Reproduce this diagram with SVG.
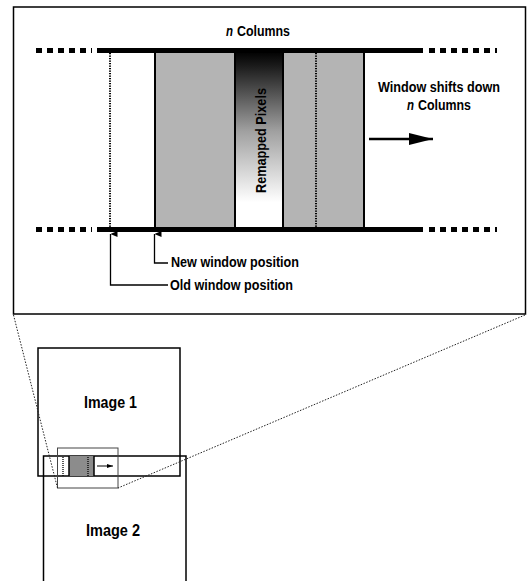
<svg xmlns="http://www.w3.org/2000/svg" width="527" height="581" viewBox="0 0 527 581">
  <style>
    .lbl { font-family: "Liberation Sans", Arial, sans-serif; font-weight: bold; fill: #000; }
    .it { font-style: italic; }
    .frame { fill: none; stroke: #000; stroke-width: 1.5; }
    .bar { stroke: #000; stroke-width: 5; }
    .dashbar { stroke: #000; stroke-width: 5; stroke-dasharray: 6 5; }
    .edge { stroke: #000; stroke-width: 2; }
    .dots { stroke: #000; stroke-width: 2; stroke-dasharray: 1.3 1.2; }
    .lead { fill: none; stroke: #000; stroke-width: 1.3; }
    .proj { fill: none; stroke: #222; stroke-width: 1; stroke-dasharray: 1.5 1.5; }
  </style>
  <defs>
    <linearGradient id="remap" x1="0" y1="0" x2="0" y2="1">
      <stop offset="0" stop-color="#000"/>
      <stop offset="0.08" stop-color="#1a1a1a"/>
      <stop offset="0.45" stop-color="#a0a0a0"/>
      <stop offset="0.85" stop-color="#fff"/>
      <stop offset="1" stop-color="#fff"/>
    </linearGradient>
    <marker id="tip" viewBox="0 0 6 8" refX="3" refY="0" markerWidth="6" markerHeight="8" markerUnits="userSpaceOnUse" orient="auto-start-reverse">
      <path d="M3 0 L6 7 L0 7 Z" fill="#000"/>
    </marker>
    <marker id="bigtip" viewBox="0 0 24 12" refX="24" refY="6" markerWidth="24" markerHeight="12" markerUnits="userSpaceOnUse" orient="auto">
      <path d="M0 0 L24 6 L0 12 Z" fill="#000"/>
    </marker>
    <marker id="smalltip" viewBox="0 0 6 4" refX="6" refY="2" markerWidth="6" markerHeight="4" markerUnits="userSpaceOnUse" orient="auto">
      <path d="M0 0 L6 2 L0 4 Z" fill="#000"/>
    </marker>
  </defs>

  <!-- magnified view -->
  <g id="detail">
    <rect class="frame" x="13.5" y="7" width="512" height="307"/>

    <!-- window columns -->
    <rect x="155" y="51" width="80" height="178" fill="#b4b4b4"/>
    <rect x="235" y="51" width="48" height="178" fill="url(#remap)"/>
    <rect x="283" y="51" width="81" height="178" fill="#b4b4b4"/>
    <line class="edge" x1="155" y1="51" x2="155" y2="229"/>
    <line class="edge" x1="235" y1="51" x2="235" y2="229"/>
    <line class="edge" x1="283" y1="51" x2="283" y2="229"/>
    <line class="edge" x1="364" y1="51" x2="364" y2="229"/>
    <line class="dots" x1="110" y1="53" x2="110" y2="228"/>
    <line class="dots" x1="316" y1="53" x2="316" y2="228"/>

    <!-- image row edges -->
    <line class="bar" x1="97" y1="50.5" x2="423" y2="50.5"/>
    <line class="bar" x1="97" y1="229.5" x2="423" y2="229.5"/>
    <line class="dashbar" x1="36" y1="50.5" x2="92" y2="50.5"/>
    <line class="dashbar" x1="36" y1="229.5" x2="92" y2="229.5"/>
    <line class="dashbar" x1="429" y1="50.5" x2="497" y2="50.5"/>
    <line class="dashbar" x1="429" y1="229.5" x2="497" y2="229.5"/>

    <text class="lbl it" font-size="15" x="226" y="36" textLength="7" lengthAdjust="spacingAndGlyphs">n</text>
    <text class="lbl" font-size="15" x="237" y="36" textLength="53" lengthAdjust="spacingAndGlyphs">Columns</text>
    <text class="lbl" font-size="15.5" transform="translate(266 193) rotate(-90)" textLength="105" lengthAdjust="spacingAndGlyphs">Remapped Pixels</text>
    <text class="lbl" font-size="15" x="378" y="92" textLength="122" lengthAdjust="spacingAndGlyphs">Window shifts down</text>
    <text class="lbl it" font-size="15" x="407" y="110" textLength="7" lengthAdjust="spacingAndGlyphs">n</text>
    <text class="lbl" font-size="15" x="418" y="110" textLength="53" lengthAdjust="spacingAndGlyphs">Columns</text>
    <line x1="369" y1="139" x2="433" y2="139" stroke="#000" stroke-width="2.5" marker-end="url(#bigtip)"/>

    <text class="lbl" font-size="15" x="171" y="267" textLength="128" lengthAdjust="spacingAndGlyphs">New window position</text>
    <text class="lbl" font-size="15" x="170" y="290" textLength="123" lengthAdjust="spacingAndGlyphs">Old window position</text>
  </g>

  <!-- overview -->
  <g id="image1">
    <rect class="frame" x="38" y="348" width="142" height="128"/>
    <text class="lbl" font-size="17" x="84" y="408" textLength="53" lengthAdjust="spacingAndGlyphs">Image 1</text>
  </g>
  <g id="image2">
    <rect class="frame" x="43.5" y="456" width="142.5" height="130"/>
    <text class="lbl" font-size="17" x="86" y="536" textLength="54" lengthAdjust="spacingAndGlyphs">Image 2</text>
  </g>
  <g id="window">
    <rect x="69" y="456" width="25" height="20" fill="#8c8c8c"/>
    <line stroke="#000" stroke-width="1.5" x1="69" y1="456" x2="69" y2="476"/>
    <line stroke="#000" stroke-width="1.5" x1="94" y1="456" x2="94" y2="476"/>
    <line stroke="#000" stroke-width="1.3" stroke-dasharray="1 1" x1="63" y1="457" x2="63" y2="476"/>
    <line stroke="#000" stroke-width="1.3" stroke-dasharray="1 1" x1="88" y1="457" x2="88" y2="476"/>
    <line x1="97" y1="466" x2="113" y2="466" stroke="#000" stroke-width="1" marker-end="url(#smalltip)"/>
    <rect x="57.5" y="448" width="60.5" height="40" fill="none" stroke="#444" stroke-width="1"/>
  </g>

  <!-- connectors -->
  <g id="connectors">
    <path class="lead" d="M154.5 234 V263 H168" marker-start="url(#tip)"/>
    <path class="lead" d="M110.5 234 V285 H168" marker-start="url(#tip)"/>
    <line class="proj" x1="13.5" y1="315" x2="57.5" y2="488"/>
    <line class="proj" x1="525" y1="315" x2="118" y2="488"/>
  </g>
</svg>
